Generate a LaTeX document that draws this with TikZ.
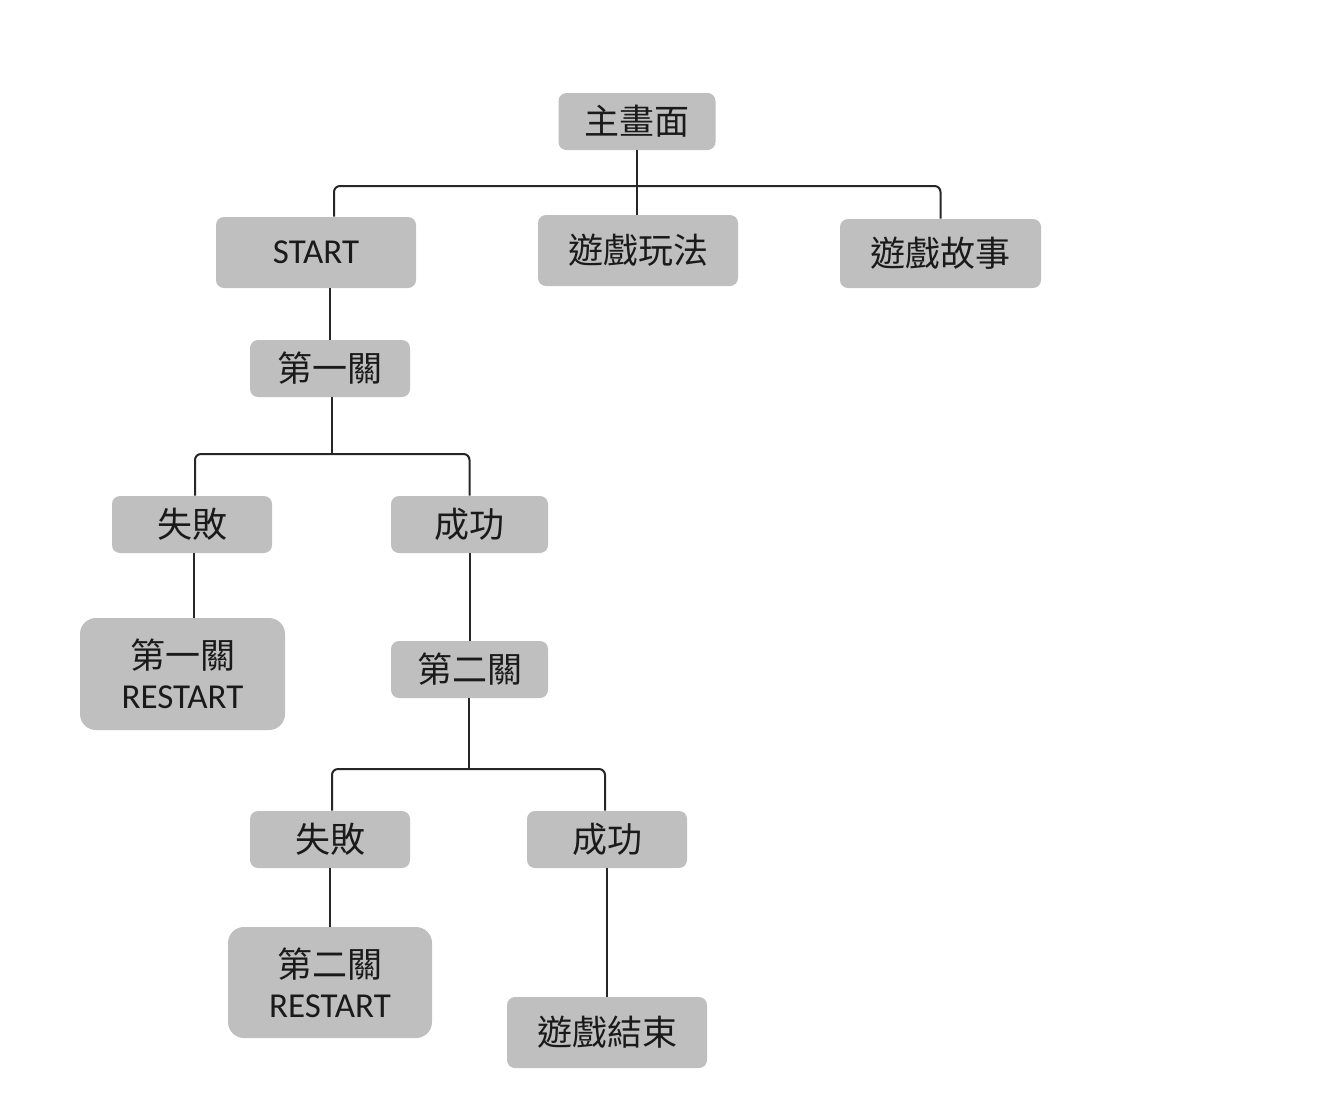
\documentclass[tikz,border=0pt]{standalone}
\usepackage{fontspec}
\setmainfont{Carlito}
\newfontfamily\cjk{Noto Sans CJK TC}
\definecolor{boxfill}{HTML}{BFBFBF}
\definecolor{txt}{HTML}{1A1A1A}
\tikzset{
  box/.style={fill=boxfill, draw=none, rounded corners=4pt, text=txt,
    font=\cjk\fontsize{17.5}{21}\selectfont, inner sep=0pt, align=center},
  bigbox/.style={box, rounded corners=8pt},
  conn/.style={draw=black!85, line width=1pt, rounded corners=3pt},
}
\begin{document}
\begin{tikzpicture}[x=0.5pt, y=-0.5pt]
\useasboundingbox (0,0) rectangle (1320,1104);
\node[box, minimum width=78.5pt, minimum height=28.5pt] (main) at (637,121.5) {主畫面};
\node[box, minimum width=100pt, minimum height=35.5pt, font=\fontsize{17.5}{21}\selectfont] (start) at (316,252.5) {START};
\node[box, minimum width=100pt, minimum height=35.5pt] (play) at (638,250.5) {遊戲玩法};
\node[box, minimum width=100.5pt, minimum height=34.5pt] (story) at (940.5,253.5) {遊戲故事};
\node[box, minimum width=80pt, minimum height=28.5pt] (lv1) at (330,368.5) {第一關};
\node[box, minimum width=80pt, minimum height=28.5pt] (fail1) at (192,524.5) {失敗};
\node[box, minimum width=78.5pt, minimum height=28.5pt] (succ1) at (469.5,524.5) {成功};
\node[bigbox, minimum width=102.5pt, minimum height=56pt] (restart1) at (182.5,674) {第一關\\[-1pt]{\fontspec{Carlito}RESTART}};
\node[box, minimum width=78.5pt, minimum height=28.5pt] (lv2) at (469.5,669.5) {第二關};
\node[box, minimum width=80pt, minimum height=28.5pt] (fail2) at (330,839.5) {失敗};
\node[box, minimum width=80pt, minimum height=28.5pt] (succ2) at (607,839.5) {成功};
\node[bigbox, minimum width=102pt, minimum height=55.5pt] (restart2) at (330,982.5) {第二關\\[-1pt]{\fontspec{Carlito}RESTART}};
\node[box, minimum width=100pt, minimum height=35.5pt] (end) at (607,1032.5) {遊戲結束};
\coordinate (j1) at (637,186);
\coordinate (j2) at (332,454);
\coordinate (j3) at (469,769);
% level 1
\draw[conn] (main.south) -- (main.south |- play.north);
\draw[conn] ([xshift=9pt]start.north) |- (j1) -| (story.north);
\draw[conn] ([xshift=7pt]start.south) -- (lv1.north);
% level 2
\draw[conn] (lv1.south -| j2) -- (j2);
\draw[conn] ([xshift=1.5pt]fail1.north) |- (j2) -| (succ1.north);
\draw[conn] ([xshift=1pt]fail1.south) -- ([xshift=1pt]fail1.south |- restart1.north);
\draw[conn] (succ1.south) -- (lv2.north);
% level 3
\draw[conn] (lv2.south -| j3) -- (j3);
\draw[conn] ([xshift=1pt]fail2.north) |- (j3) -| ([xshift=-1pt]succ2.north);
\draw[conn] (fail2.south) -- (restart2.north);
\draw[conn] (succ2.south) -- (end.north);
\end{tikzpicture}
\end{document}
